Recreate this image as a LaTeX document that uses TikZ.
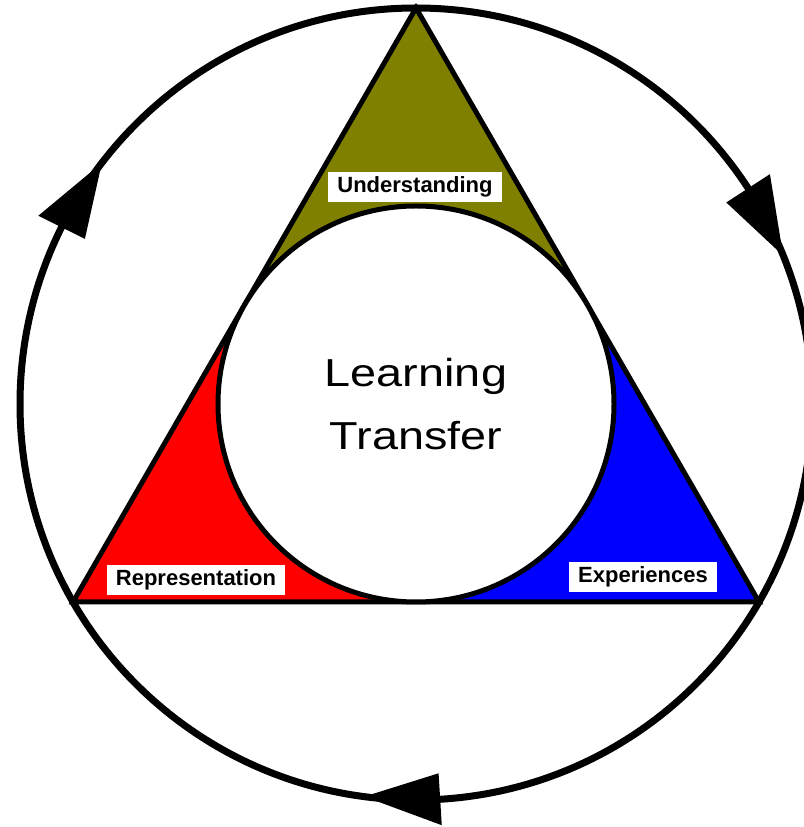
\documentclass[tikz,border=0pt]{standalone}
\usepackage{fontspec}
\setmainfont{Liberation Sans}
\newfontfamily\widesans[FakeStretch=1.2]{Liberation Sans}
\usetikzlibrary{calc}
\definecolor{cornerolive}{RGB}{128, 128, 0}
\definecolor{cornerred}{RGB}{255, 0, 0}
\definecolor{cornerblue}{RGB}{0, 0, 255}

\begin{document}
\begin{tikzpicture}[
    x=1pt, y=1pt,
    side/.style={line width=5pt, line join=miter},
    core/.style={circle, draw, fill=white, line width=5pt, minimum size=396pt, inner sep=0pt, align=center, font=\widesans\fontsize{39}{63}\selectfont},
    tag/.style={fill=white, inner xsep=9pt, inner ysep=0pt, minimum height=30pt, font=\fontsize{22}{24}\selectfont\bfseries},
    ring/.style={line width=7pt},
    head/.style={fill=black}
]
\useasboundingbox (0,0) rectangle (803,827);

\coordinate (mid) at (416,423);
\coordinate (apex) at (416,819);
\coordinate (left) at (73,225);
\coordinate (right) at (759,225);
\coordinate (sideL) at ($(apex)!0.5!(left)$);
\coordinate (sideR) at ($(apex)!0.5!(right)$);
\coordinate (base) at ($(left)!0.5!(right)$);

% coloured corners
\fill[cornerolive] (apex) -- (sideL) -- (mid) -- (sideR) -- cycle;
\fill[cornerred] (left) -- (base) -- (mid) -- (sideL) -- cycle;
\fill[cornerblue] (right) -- (sideR) -- (mid) -- (base) -- cycle;
\draw[side] (apex) -- (left) -- (right) -- cycle;

\node[core] (centre) at (mid) {Learning\\Transfer};

% outer cycle, running clockwise
\draw[ring] (mid) circle[radius=396];
\foreach \a in {22, 142.5, 262.5}
    \fill[head, shift={(mid)}] (\a:396) -- (\a+11:370) -- (\a+11:422) -- cycle;

\node[tag] (understanding) at (415,640) {Understanding};
\node[tag] (representation) at (196,247) {Representation};
\node[tag] (experiences) at (643,250) {Experiences};

\end{tikzpicture}
\end{document}
